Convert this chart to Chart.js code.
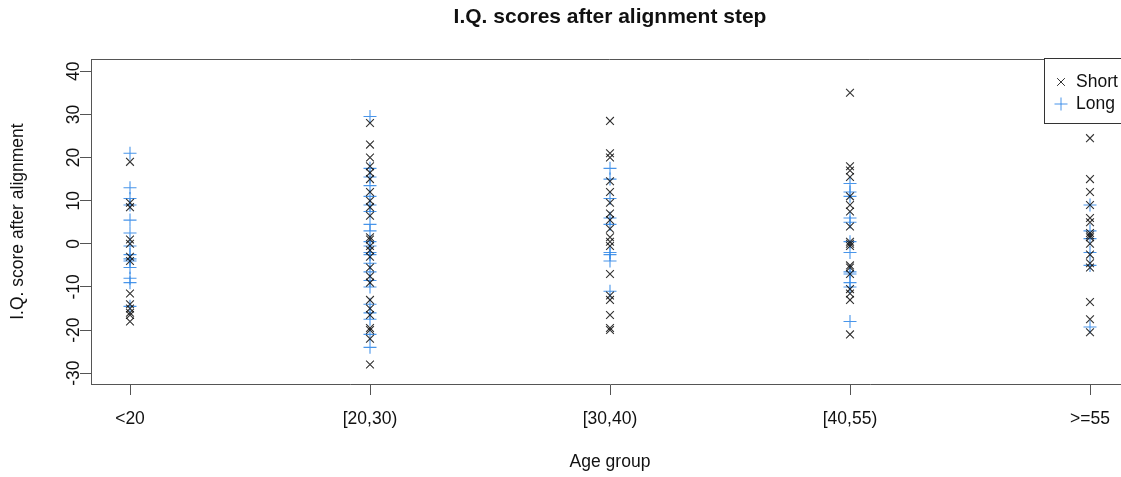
<!DOCTYPE html>
<html>
<head>
<meta charset="utf-8">
<script src="https://cdn.jsdelivr.net/npm/chart.js@4"></script>
<style>
html,body{margin:0;padding:0;background:#fff;overflow:hidden;}
#wrap{width:1140px;height:477px;}
</style>
</head>
<body>
<div id="wrap"><canvas id="c" width="1140" height="477"></canvas></div>
<script>
const categories = ['<20', '[20,30)', '[30,40)', '[40,55)', '>=55'];
const yTicks = [-30, -20, -10, 0, 10, 20, 30, 40];

const short_lt20  = [19, 9.5, 8.5, 1, 0, -3, -4, -11.5, -14, -15, -16, -16.5, -18];
const long_lt20   = [21, 13, 10.5, 9, 5.5, 2.5, -0.5, -2.5, -3.5, -4, -5.5, -8, -9, -14.5];
const short_20_30 = [28, 23, 20, 18, 16.5, 15, 12, 10, 8.5, 6.5, 1.5, 1, -0.5, -1.5, -3, -5.5, -7.5, -9, -13, -15, -16.5, -19.5, -20, -22, -28];
const long_20_30  = [29.5, 17.5, 15.5, 13.5, 11, 9, 7.5, 4.5, 3, 0.5, -0.5, -2, -2.5, -4.5, -6.5, -8.5, -10, -14, -16, -17.5, -21, -24];
const short_30_40 = [28.5, 21, 20, 14.5, 12, 9.5, 7, 5.5, 3.5, 1.5, 0.5, -0.5, -7, -12, -13, -16.5, -19.5, -20];
const long_30_40  = [17.5, 15, 10.5, 6, 4.5, -2, -2.5, -4, -11];
const short_40_55 = [35, 18, 17, 15.5, 11, 9, 7.5, 4, 0.5, 0, -0.5, -5, -5.5, -7, -10.5, -11.5, -13, -21];
const long_40_55  = [14, 12, 11, 6, 5, 0.5, -2, -6.5, -7, -9, -10, -18];
const short_ge55  = [24.5, 15, 12, 9, 6, 5, 2.5, 2, 1.5, 0, -2.5, -4.5, -5.5, -13.5, -17.5, -20.5];
const long_ge55   = [9, 3, 1.2, -2, -5, -19.3];

const shortGroups = [short_lt20, short_20_30, short_30_40, short_40_55, short_ge55];
const longGroups  = [long_lt20, long_20_30, long_30_40, long_40_55, long_ge55];

function toPoints(groups) {
  const pts = [];
  groups.forEach((g, i) => g.forEach(v => pts.push({x: i + 1, y: v})));
  return pts;
}

const FONT = '"Liberation Sans", Arial, Helvetica, sans-serif';
const AX = '#555';
const SHORT_COL = 'rgba(15,15,15,0.85)';
const LONG_COL = 'rgba(40,130,230,0.85)';

const boxPlugin = {
  id: 'boxPlugin',
  afterDraw(chart) {
    const {ctx, chartArea: a} = chart;
    ctx.save();
    ctx.strokeStyle = AX;
    ctx.lineWidth = 1;
    ctx.beginPath();
    const t = Math.round(a.top) + 0.5, r = Math.round(a.right) - 0.5;
    ctx.moveTo(Math.round(a.left), t);
    ctx.lineTo(r, t);
    ctx.lineTo(r, Math.round(a.bottom));
    ctx.stroke();
    // legend
    const lx = 1044.5, ly = 58.5;
    ctx.fillStyle = '#fff';
    ctx.fillRect(lx, ly, 200, 65);
    ctx.strokeStyle = '#333';
    ctx.strokeRect(lx, ly, 200, 65);
    ctx.strokeStyle = SHORT_COL;
    Chart.helpers.drawPoint(ctx, {pointStyle: 'crossRot', radius: 5.5, borderWidth: 1}, 1061, 82);
    ctx.strokeStyle = LONG_COL;
    Chart.helpers.drawPoint(ctx, {pointStyle: 'cross', radius: 6.5, borderWidth: 1}, 1061, 104);
    ctx.fillStyle = '#111';
    ctx.font = '17.5px ' + FONT;
    ctx.textBaseline = 'middle';
    ctx.textAlign = 'left';
    ctx.fillText('Short', 1076, 82);
    ctx.fillText('Long', 1076, 104);
    ctx.restore();
  }
};

new Chart(document.getElementById('c'), {
  type: 'scatter',
  data: {
    datasets: [
      {
        label: 'Short',
        data: toPoints(shortGroups),
        pointStyle: 'crossRot',
        pointRadius: 5.5,
        pointBorderWidth: 1.1,
        borderColor: SHORT_COL,
        backgroundColor: SHORT_COL,
        order: 1
      },
      {
        label: 'Long',
        data: toPoints(longGroups),
        pointStyle: 'cross',
        pointRadius: 6.5,
        pointBorderWidth: 1.1,
        borderColor: LONG_COL,
        backgroundColor: LONG_COL,
        order: 2
      }
    ]
  },
  options: {
    responsive: false,
    animation: false,
    events: [],
    layout: {padding: {left: 0, right: 11, top: 0, bottom: 0}},
    plugins: {
      legend: {display: false},
      tooltip: {enabled: false},
      title: {
        display: true,
        text: 'I.Q. scores after alignment step',
        fullSize: false,
        color: '#111',
        font: {family: FONT, size: 21, weight: 'bold', lineHeight: 1.2},
        padding: {top: 5, bottom: 29}
      }
    },
    scales: {
      x: {
        type: 'linear',
        min: 0.8375,
        max: 5.1625,
        afterBuildTicks(scale) { scale.ticks = categories.map((c, i) => ({value: i + 1})); },
        afterFit(scale) { scale.height = 93; },
        grid: {display: true, drawOnChartArea: false, drawTicks: true, tickLength: 11, color: AX},
        border: {display: true, color: AX, width: 1},
        ticks: {
          autoSkip: false,
          maxRotation: 0,
          padding: 14,
          color: '#111',
          font: {family: FONT, size: 17.5},
          callback: (v) => categories[Math.round(v) - 1]
        },
        title: {
          display: true,
          text: 'Age group',
          color: '#111',
          font: {family: FONT, size: 17.5},
          padding: {top: 0, bottom: 4}
        }
      },
      y: {
        type: 'linear',
        min: -32.5,
        max: 42.8,
        afterBuildTicks(scale) { scale.ticks = yTicks.map(v => ({value: v})); },
        afterFit(scale) { scale.width = 91; },
        grid: {display: true, drawOnChartArea: false, drawTicks: true, tickLength: 11, color: AX},
        border: {display: true, color: AX, width: 1},
        ticks: {
          autoSkip: false,
          minRotation: 90,
          maxRotation: 90,
          crossAlign: 'center',
          padding: -7,
          color: '#111',
          font: {family: FONT, size: 17.5},
          callback: (v) => String(v)
        },
        title: {
          display: true,
          text: 'I.Q. score after alignment',
          color: '#111',
          font: {family: FONT, size: 17.5},
          padding: {top: 8, bottom: 0}
        }
      }
    }
  },
  plugins: [boxPlugin]
});
</script>
</body>
</html>
